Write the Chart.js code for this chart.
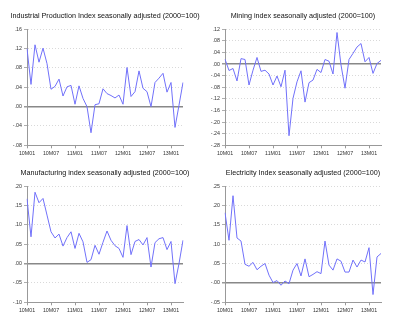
<!DOCTYPE html>
<html lang="en">
<head>
    <meta charset="UTF-8">
    <title>Production indices</title>
    <style>
        body { margin: 0; background: #fff; overflow: hidden; }
        canvas { position: absolute; }
    </style>
</head>
<body>
    <canvas id="c1" width="210" height="160" style="left:0;top:0"></canvas>
    <canvas id="c2" width="210" height="160" style="left:198px;top:0"></canvas>
    <canvas id="c3" width="210" height="165" style="left:0;top:160px"></canvas>
    <canvas id="c4" width="210" height="165" style="left:198px;top:160px"></canvas>

    <script src="https://cdn.jsdelivr.net/npm/chart.js@4"></script>
    <script>
        // months, 2010 M01 .. 2013 M04
        const months = [
            '10M01','10M02','10M03','10M04','10M05','10M06','10M07','10M08','10M09','10M10','10M11','10M12',
            '11M01','11M02','11M03','11M04','11M05','11M06','11M07','11M08','11M09','11M10','11M11','11M12',
            '12M01','12M02','12M03','12M04','12M05','12M06','12M07','12M08','12M09','12M10','12M11','12M12',
            '13M01','13M02','13M03','13M04'
        ];

        const industrial = [0.120, 0.046, 0.128, 0.092, 0.121, 0.089, 0.036, 0.042, 0.057, 0.022,
            0.041, 0.044, 0.005, 0.043, 0.017, 0.000, -0.054, 0.004, 0.006, 0.037,
            0.027, 0.023, 0.018, 0.024, 0.005, 0.081, 0.021, 0.031, 0.074, 0.038,
            0.031, 0.000, 0.050, 0.059, 0.069, 0.030, 0.050, -0.043, 0.003, 0.050];

        const mining = [0.017, -0.022, -0.015, -0.058, 0.019, 0.016, -0.072, -0.021, 0.023, -0.025,
            -0.021, -0.034, -0.072, -0.041, -0.078, -0.021, -0.247, -0.118, -0.061, -0.023,
            -0.131, -0.064, -0.055, -0.018, -0.029, 0.016, 0.010, -0.034, 0.109, -0.003,
            -0.083, 0.016, 0.037, 0.059, 0.071, 0.008, 0.023, -0.032, 0.002, 0.013];

        const manufacturing = [0.167, 0.069, 0.184, 0.157, 0.168, 0.125, 0.082, 0.066, 0.076, 0.045,
            0.067, 0.082, 0.039, 0.078, 0.056, 0.003, 0.010, 0.047, 0.024, 0.055,
            0.084, 0.060, 0.046, 0.039, 0.016, 0.098, 0.023, 0.057, 0.062, 0.048,
            0.067, -0.009, 0.054, 0.064, 0.067, 0.036, 0.057, -0.052, 0.000, 0.060];

        const electricity = [0.181, 0.110, 0.225, 0.116, 0.108, 0.048, 0.043, 0.053, 0.034, 0.043,
            0.050, 0.020, 0.001, 0.006, -0.006, 0.005, -0.002, 0.033, 0.050, 0.018,
            0.062, 0.016, 0.022, 0.029, 0.024, 0.108, 0.046, 0.033, 0.062, 0.056,
            0.028, 0.028, 0.059, 0.041, 0.059, 0.054, 0.091, -0.030, 0.067, 0.076];

        const isZero = ctx => ctx.tick && Math.abs(ctx.tick.value) < 1e-9;
        // eviews style labels: .08, -.04
        const fmt = v => v.toFixed(2).replace('0.', '.');

        function panel(id, title, values, yMin, yMax, yStep, titleTop, titleGap, xHeight) {
            return new Chart(document.getElementById(id), {
                type: 'line',
                data: {
                    labels: months,
                    datasets: [{
                        data: values,
                        borderColor: '#7171fa',
                        borderWidth: 1,
                        pointRadius: 0,
                        tension: 0,
                        fill: false
                    }]
                },
                options: {
                    responsive: false,
                    animation: false,
                    devicePixelRatio: 1,
                    plugins: {
                        legend: { display: false },
                        tooltip: { enabled: false },
                        title: {
                            display: true,
                            text: title,
                            color: '#111',
                            font: { family: 'Liberation Sans, Arial', size: 7.2, weight: 'normal' },
                            padding: { top: titleTop, bottom: titleGap }
                        }
                    },
                    scales: {
                        x: {
                            offset: false,
                            ticks: {
                                autoSkip: false,
                                maxRotation: 0,
                                padding: 2,
                                color: '#333',
                                font: { family: 'Liberation Sans, Arial', size: 5.3 },
                                callback: (v, i) => i % 6 === 0 ? months[i] : ''
                            },
                            grid: {
                                drawOnChartArea: false,
                                tickLength: 3,
                                color: ctx => ctx.index % 6 === 0 ? '#999' : 'rgba(0,0,0,0)',
                                tickColor: ctx => ctx.index % 6 === 0 ? '#999' : 'rgba(0,0,0,0)'
                            },
                            border: { color: '#999' },
                            afterFit: s => { s.height = xHeight; }
                        },
                        y: {
                            min: yMin,
                            max: yMax,
                            ticks: {
                                stepSize: yStep,
                                padding: 2,
                                color: '#333',
                                font: { family: 'Liberation Sans, Arial', size: 5.3 },
                                callback: v => fmt(v)
                            },
                            grid: {
                                color: ctx => isZero(ctx) ? '#888' : '#cfcfcf',
                                lineWidth: ctx => isZero(ctx) ? 1.5 : 0.8,
                                tickLength: 3,
                                tickColor: '#999',
                                tickBorderDash: []
                            },
                            border: {
                                color: '#999',
                                dash: ctx => isZero(ctx) ? [] : [1, 2]
                            },
                            afterFit: s => { s.width = 27; }
                        },
                        // empty right margin so the title centres over the plot
                        pad: {
                            type: 'linear',
                            position: 'right',
                            ticks: { display: false },
                            grid: { display: false },
                            border: { display: false },
                            afterFit: s => { s.width = 27; }
                        }
                    }
                }
            });
        }

        panel('c1', 'Industrial Production Index seasonally adjusted (2000=100)', industrial, -0.08, 0.16, 0.04, 11.4, 9.3, 14.7);
        panel('c2', 'Mining index seasonally adjusted (2000=100)', mining, -0.28, 0.12, 0.04, 11.4, 9.3, 14.7);
        panel('c3', 'Manufacturing index seasonally adjusted (2000=100)', manufacturing, -0.10, 0.20, 0.05, 9.0, 8.4, 22.7);
        panel('c4', 'Electricity Index seasonally adjusted (2000=100)', electricity, -0.05, 0.25, 0.05, 9.0, 8.4, 22.7);
    </script>
</body>
</html>
